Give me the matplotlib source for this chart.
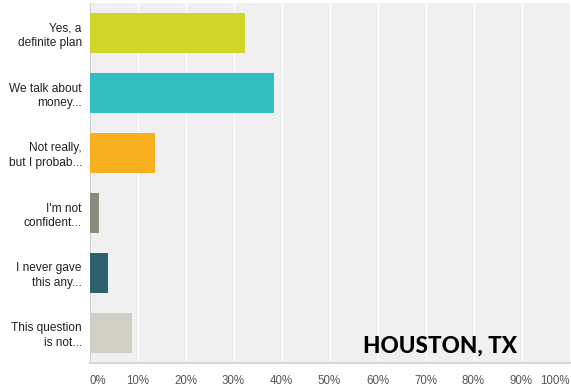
import matplotlib.pyplot as plt
import numpy as np

labels = ["Yes, a\ndefinite plan", "We talk about\nmoney...", "Not really,\nbut I probab...",
          "I'm not\nconfident...", "I never gave\nthis any...", "This question\nis not..."]
values = [32.4, 38.4, 13.6, 2.0, 3.8, 8.8]
colors = ["#d0d52a", "#33bec0", "#f7ae1f", "#8b8b7d", "#2f6070", "#d0cfc3"]
ticks = list(range(0, 101, 10))

fig = plt.figure(figsize=(5.71, 3.89), dpi=100)
ax = fig.add_axes([89.5/571, 26/389, 480/571, 360/389])
ax.set_facecolor("#f0f0f0")

y = np.arange(len(labels))
ax.barh(y, values, height=0.667, color=colors, zorder=3)
ax.set_ylim(len(labels) - 0.5, -0.5)
ax.set_xlim(0, 100)

ax.set_xticks(ticks)
ax.set_xticklabels([f"{t}%" for t in ticks], color="#555555", fontsize=8.3,
                   family="Liberation Sans")
ax.xaxis.grid(True, color="white", linewidth=1, zorder=1)
ax.tick_params(axis="x", length=0, pad=9)
# first and last tick labels sit inside the plot edges
xl = ax.get_xticklabels()
xl[0].set_horizontalalignment("left")
xl[-1].set_horizontalalignment("right")

ax.set_yticks(y)
ax.set_yticklabels(labels, fontsize=8.6, color="#222222", linespacing=1.3,
                   family="Liberation Sans")
ax.tick_params(axis="y", length=0, pad=5.5)

for s in ["top", "right"]:
    ax.spines[s].set_visible(False)
ax.spines["left"].set_color("#d0d0d0")
ax.spines["bottom"].set_color("#d8d8d8")
ax.spines["bottom"].set_linewidth(1.5)

ax.text(0.57, 0.028, "HOUSTON, TX", transform=ax.transAxes, fontsize=16.2,
        fontweight="black", family=["Lato", "DejaVu Sans"],
        color="black", va="baseline", zorder=4)

fig.savefig("out.png", dpi=100)
